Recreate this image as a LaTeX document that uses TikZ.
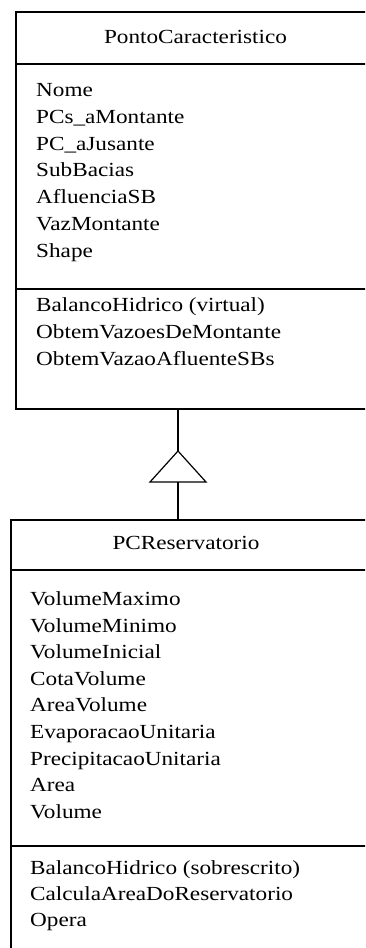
\documentclass[tikz,border=0pt]{standalone}
\usepackage{fontspec}
\setmainfont{Liberation Serif}[FakeStretch=1.16]
\begin{document}
\begin{tikzpicture}[x=1pt,y=-1pt,
    classe/.style={draw,line width=1.5pt,inner sep=0pt,anchor=north west},
    divisao/.style={line width=1.5pt},
    linha/.style={line width=1.2pt},
    titulo/.style={anchor=base,inner sep=0pt,font=\fontsize{20}{24}\selectfont},
    item/.style={anchor=base west,inner sep=0pt,font=\fontsize{20}{24}\selectfont}]

    \path[use as bounding box,clip] (0,0) rectangle (365,948);

    % Classe base
    \node[classe,minimum width=361pt,minimum height=397pt] (ponto) at (15,11) {};
    \draw[divisao] (15,64) -- (376,64);
    \draw[divisao] (15,289) -- (376,289);
    \node[titulo] (tponto) at (195.5,43.5) {PontoCaracteristico};
    \foreach \t [count=\i from 0] in {Nome,PCs\_aMontante,PC\_aJusante,SubBacias,
        AfluenciaSB,VazMontante,Shape} {
        \node[item] (pa\i) at (36,{96.5+26.8*\i}) {\t};
    }
    \foreach \t [count=\i from 0] in {BalancoHidrico (virtual),ObtemVazoesDeMontante,
        ObtemVazaoAfluenteSBs} {
        \node[item] (pm\i) at (36,{311+27*\i}) {\t};
    }

    % Classe derivada
    \node[classe,minimum width=360pt,minimum height=440pt] (reserv) at (10,519) {};
    \draw[divisao] (10,570) -- (370,570);
    \draw[divisao] (10,846) -- (370,846);
    \node[titulo] (treserv) at (186,549.5) {PCReservatorio};
    \foreach \t [count=\i from 0] in {VolumeMaximo,VolumeMinimo,VolumeInicial,
        CotaVolume,AreaVolume,EvaporacaoUnitaria,PrecipitacaoUnitaria,Area,Volume} {
        \node[item] (ra\i) at (30,{605.5+26.6*\i}) {\t};
    }
    \foreach \t [count=\i from 0] in {BalancoHidrico (sobrescrito),
        CalculaAreaDoReservatorio,Opera} {
        \node[item] (rm\i) at (30,{874+26*\i}) {\t};
    }

    % Heranca
    \coordinate (topo) at (178,451);
    \coordinate (base) at (178,482);
    \draw[linha] (topo |- ponto.south) -- (topo);
    \draw[linha] (topo) -- (150,482) -- (206,482) -- cycle;
    \draw[linha] (base) -- (base |- reserv.north);

\end{tikzpicture}
\end{document}
